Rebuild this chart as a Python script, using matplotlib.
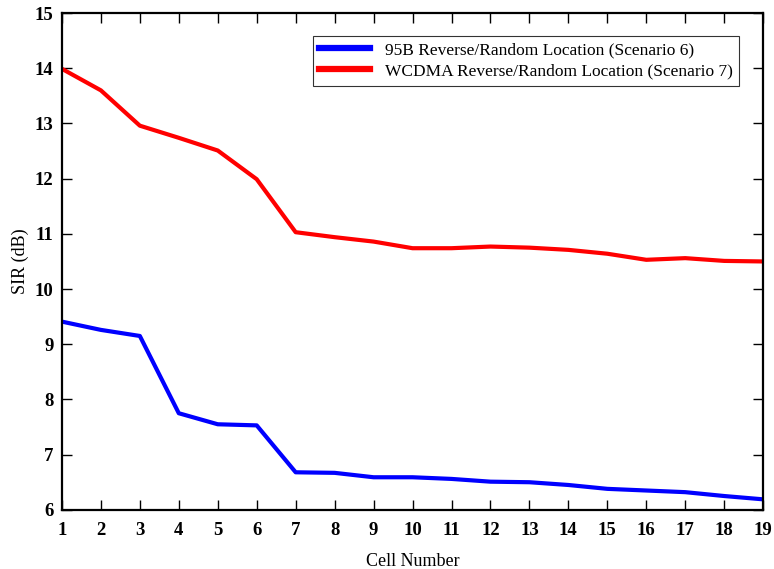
import matplotlib
matplotlib.use('Agg')
import matplotlib.pyplot as plt

# ---------------- data ----------------
cells = list(range(1, 20))
sir_95b = [9.41, 9.26, 9.15, 7.75, 7.55, 7.53, 6.68, 6.67, 6.59, 6.59,
           6.56, 6.51, 6.50, 6.45, 6.38, 6.35, 6.32, 6.25, 6.19]
sir_wcdma = [13.99, 13.60, 12.96, 12.74, 12.51, 11.99, 11.03, 10.94, 10.86, 10.74,
             10.74, 10.77, 10.75, 10.71, 10.64, 10.53, 10.56, 10.51, 10.50]
label_95b = '95B Reverse/Random Location (Scenario 6)'
label_wcdma = 'WCDMA Reverse/Random Location (Scenario 7)'

# ---------------- plot ----------------
plt.rcParams['font.family'] = ['Liberation Serif', 'DejaVu Serif']

fig = plt.figure(figsize=(7.74, 5.69), dpi=100)
ax = fig.add_axes([0.080, 0.104, 0.906, 0.873])

ax.plot(cells, sir_95b, color='#0000ff', lw=3, label=label_95b)
ax.plot(cells, sir_wcdma, color='#ff0000', lw=3, label=label_wcdma)

ax.set_xlim(1, 19)
ax.set_ylim(6, 15)
ax.set_xticks(cells)
ax.set_yticks(range(6, 16))

ax.tick_params(direction='in', top=True, right=True, length=7.5, width=1,
               labelsize=13.5)
ax.tick_params(axis='x', pad=9)
ax.tick_params(axis='y', pad=6)
for lab in ax.get_xticklabels() + ax.get_yticklabels():
    lab.set_fontweight('bold')
for sp in ax.spines.values():
    sp.set_linewidth(1.6)

ax.set_xlabel('Cell Number', fontsize=13, labelpad=10)
ax.set_ylabel('SIR (dB)', fontsize=13, labelpad=4)

leg = ax.legend(loc='upper right', bbox_to_anchor=(0.966, 0.954), borderaxespad=0,
                fontsize=12.5, frameon=True, fancybox=False, edgecolor='black',
                handlelength=2.9, handletextpad=0.9, borderpad=0.35,
                labelspacing=0.3)
leg.get_frame().set_linewidth(0.8)
for l in leg.get_lines():
    l.set_linewidth(4.5)

fig.savefig('out.png', dpi=100)
